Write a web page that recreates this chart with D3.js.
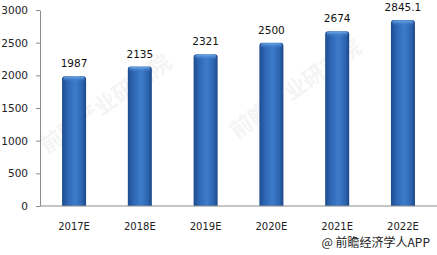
<!DOCTYPE html>
<html>
<head>
<meta charset="utf-8">
<script src="https://cdn.jsdelivr.net/npm/d3@7"></script>
<style>
  body { margin: 0; background: #fff; }
  svg { display: block; }
</style>
</head>
<body>
<div id="chart"></div>
<script>
const years = ["2017E", "2018E", "2019E", "2020E", "2021E", "2022E"];
const values = [1987, 2135, 2321, 2500, 2674, 2845.1];
const valueLabels = ["1987", "2135", "2321", "2500", "2674", "2845.1"];
const yTicks = [0, 500, 1000, 1500, 2000, 2500, 3000];

const W = 437, H = 255;
const margin = { top: 10, right: 1, bottom: 49, left: 40 };

const svg = d3.select("#chart")
    .append("svg")
    .attr("width", W)
    .attr("height", H);

const defs = svg.append("defs");
const grad = defs.append("linearGradient")
    .attr("id", "barGrad")
    .attr("x1", "0%").attr("x2", "100%")
    .attr("y1", "0%").attr("y2", "0%");
grad.append("stop").attr("offset", "0%").attr("stop-color", "#1d4c8f");
grad.append("stop").attr("offset", "25%").attr("stop-color", "#2f68b6");
grad.append("stop").attr("offset", "55%").attr("stop-color", "#3d7ccb");
grad.append("stop").attr("offset", "85%").attr("stop-color", "#2c63ae");
grad.append("stop").attr("offset", "100%").attr("stop-color", "#1b4686");

const capGrad = defs.append("linearGradient")
    .attr("id", "capGrad")
    .attr("x1", "0%").attr("x2", "0%")
    .attr("y1", "0%").attr("y2", "100%");
capGrad.append("stop").attr("offset", "0%").attr("stop-color", "#6aa6e6");
capGrad.append("stop").attr("offset", "100%").attr("stop-color", "#3d7ccb").attr("stop-opacity", 0);

// faint watermark
const wm = [[110, 110], [300, 95]];
svg.append("g")
    .selectAll("text")
    .data(wm)
    .enter()
    .append("text")
    .attr("transform", d => `translate(${d[0]},${d[1]}) rotate(-35)`)
    .attr("text-anchor", "middle")
    .style("font-family", "'Noto Sans CJK SC', sans-serif")
    .style("font-size", "22px")
    .style("font-weight", "bold")
    .style("fill", "#000")
    .style("opacity", 0.04)
    .text("前瞻产业研究院");

const x = d3.scaleBand()
    .domain(years)
    .range([margin.left + 1, W - margin.right])
    .paddingInner(0.635)
    .paddingOuter(0.32);

const y = d3.scaleLinear()
    .domain([0, 3000])
    .range([H - margin.bottom, margin.top]);

const g = svg.append("g");

// Y axis
const yAxis = g.append("g")
    .attr("transform", `translate(${margin.left},0)`)
    .call(d3.axisLeft(y).tickValues(yTicks).tickFormat(d3.format("d"))
        .tickSize(4).tickSizeOuter(0).tickPadding(8));
yAxis.select(".domain").attr("stroke", "#8c8c8c");
yAxis.selectAll(".tick line").attr("stroke", "#8c8c8c");
yAxis.selectAll("text")
    .style("font-family", "'DejaVu Sans', sans-serif")
    .style("font-size", "10.5px")
    .style("fill", "#222");

// Bars
const bars = g.append("g")
    .selectAll("g")
    .data(values)
    .enter()
    .append("g");

bars.append("path")
    .attr("d", (d, i) => {
        const x0 = x(years[i]), w = x.bandwidth(), y0 = y(d), y1 = y(0), r = 3;
        return `M${x0},${y1} L${x0},${y0 + r} Q${x0},${y0} ${x0 + r},${y0} L${x0 + w - r},${y0} Q${x0 + w},${y0} ${x0 + w},${y0 + r} L${x0 + w},${y1} Z`;
    })
    .attr("fill", "url(#barGrad)");

bars.append("rect")
    .attr("x", (d, i) => x(years[i]) + 1.5)
    .attr("y", d => y(d) + 0.5)
    .attr("width", x.bandwidth() - 3)
    .attr("height", 5)
    .attr("rx", 2)
    .attr("fill", "url(#capGrad)");

// Value labels
bars.append("text")
    .attr("x", (d, i) => x(years[i]) + x.bandwidth() / 2)
    .attr("y", d => y(d) - 9)
    .attr("text-anchor", "middle")
    .style("font-family", "'DejaVu Sans', sans-serif")
    .style("font-size", "10.5px")
    .style("fill", "#111")
    .text((d, i) => valueLabels[i]);

// X axis
const xAxis = g.append("g")
    .attr("transform", `translate(0,${y(0)})`)
    .call(d3.axisBottom(x).tickSize(0).tickPadding(17));
xAxis.select(".domain")
    .attr("stroke", "#8c8c8c")
    .attr("d", `M${margin.left},0H${W}`);
xAxis.selectAll("text")
    .style("font-family", "'DejaVu Sans', sans-serif")
    .style("font-size", "10px")
    .style("fill", "#222");

// Source
svg.append("text")
    .attr("x", 430)
    .attr("y", 247)
    .attr("text-anchor", "end")
    .style("font-family", "'Noto Sans CJK SC', sans-serif")
    .style("font-size", "12px")
    .style("fill", "#222")
    .text("@ 前瞻经济学人APP");
</script>
</body>
</html>
